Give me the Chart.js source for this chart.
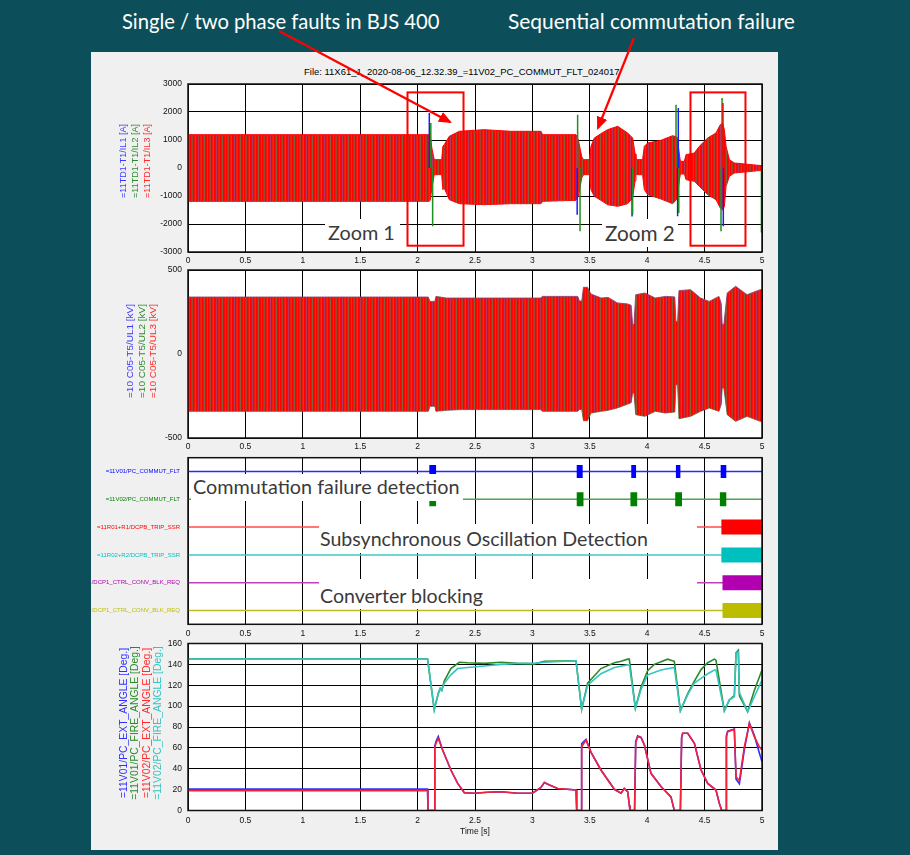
<!DOCTYPE html>
<html>
<head>
<meta charset="utf-8">
<title>11V02 commutation failure record</title>
<script src="https://cdn.jsdelivr.net/npm/chart.js@4.4.1/dist/chart.umd.min.js"></script>
<style>
  html, body { margin: 0; padding: 0; }
  body { width: 910px; height: 855px; position: relative; overflow: hidden; background: #0c4f5a; font-family: 'Liberation Sans', Arial, sans-serif; }
  #sheet { position: absolute; left: 91px; top: 52px; width: 687px; height: 798px; background: #f0f0f0; }
  canvas { position: absolute; left: 91px; }
  .txt { position: absolute; white-space: nowrap; line-height: 1; transform: translateY(-50%); }
  .hdr { color: #fff; font-family: Lato, 'Open Sans', sans-serif; }
  .call { color: #3a3a3a; font-family: Lato, 'Open Sans', sans-serif; }
  .note { position: absolute; background: #fff; }
  .vlab { position: absolute; white-space: nowrap; line-height: 1; transform: translate(-50%, -50%) rotate(-90deg); }
  svg { position: absolute; left: 0; top: 0; }
</style>
</head>
<body>
<div id="sheet"></div>

<span class="txt hdr" data-w="318" style="left:122px;top:21px">Single / two phase faults in BJS 400</span>
<span class="txt hdr" data-w="287" style="left:508px;top:21px">Sequential commutation failure</span>
<span class="txt" data-w="316" style="left:304px;top:72px;color:#000">File: 11X61_1_2020-08-06_12.32.39_=11V02_PC_COMMUT_FLT_024017</span>

<canvas id="cur" width="684" height="204" style="top:70px"></canvas>
<canvas id="volt" width="684" height="204" style="top:256px"></canvas>
<canvas id="dig" width="684" height="202" style="top:444px"></canvas>
<canvas id="ang" width="684" height="222" style="top:630px"></canvas>

<!-- callouts with white boxes over the plots -->
<div class="note" style="left:325px;top:219px;width:75px;height:28px"></div>
<span class="txt call" data-w="67" style="left:328px;top:233px">Zoom 1</span>
<div class="note" style="left:602px;top:219px;width:76px;height:28px"></div>
<span class="txt call" data-w="70" style="left:605px;top:233px">Zoom 2</span>
<div class="note" style="left:191px;top:473.5px;width:272px;height:27px"></div>
<span class="txt call" data-w="267" style="left:193px;top:487px">Commutation failure detection</span>
<div class="note" style="left:319px;top:523.5px;width:378px;height:29.5px"></div>
<span class="txt call" data-w="328" style="left:320px;top:539px">Subsynchronous Oscillation Detection</span>
<div class="note" style="left:319px;top:578.5px;width:378px;height:30px"></div>
<span class="txt call" data-w="163" style="left:320px;top:596px">Converter blocking</span>

<div id="labels"></div>

<svg width="910" height="855">
  <defs>
    <marker id="ah" markerWidth="6" markerHeight="5" refX="5" refY="2.5" orient="auto" markerUnits="strokeWidth">
      <path d="M0,0 L6,2.5 L0,5 z" fill="#ff0000"/>
    </marker>
  </defs>
  <line x1="279" y1="31" x2="450" y2="122" stroke="#ff0000" stroke-width="2.2" marker-end="url(#ah)"/>
  <line x1="634" y1="38" x2="598" y2="128" stroke="#ff0000" stroke-width="2.2" marker-end="url(#ah)"/>
</svg>

<script>
// --- DATA ---
// phase currents [A]: envelope of the 50 Hz band
const curT  = [0, 2.10, 2.11, 2.125, 2.145, 2.21, 2.22, 2.232, 2.276, 2.363, 2.581, 2.813, 3.075, 3.089, 3.38, 3.40, 3.43, 3.446, 3.496, 3.51, 3.539, 3.597, 3.655, 3.743, 3.83, 3.873, 3.895, 3.902, 3.96, 3.975, 4.004, 4.12, 4.222, 4.26, 4.28, 4.289, 4.324, 4.338, 4.411, 4.454, 4.527, 4.599, 4.637, 4.657, 4.672, 4.687, 4.716, 4.759, 5.0];
const curHi = [1190, 1190, 1150, 700, 298, 298, 774, 833, 1131, 1310, 1369, 1310, 1310, 1190, 1190, 1000, 400, 298, 298, 774, 1071, 1226, 1369, 1488, 1250, 1071, 500, 298, 298, 774, 893, 988, 1155, 1100, 500, 238, 238, 476, 536, 774, 1071, 1250, 1548, 1600, 1369, 774, 298, 179, 83];
const curLo = [-1190, -1190, -1150, -700, -238, -238, -774, -714, -1131, -1274, -1310, -1274, -1274, -1190, -1155, -1000, -350, -238, -238, -774, -1012, -1155, -1310, -1369, -1274, -1071, -450, -238, -238, -774, -952, -1107, -1274, -1100, -450, -214, -214, -417, -476, -655, -952, -1131, -1429, -1500, -1369, -655, -298, -179, -83];
// current spikes [t, from, to]
const curSpikeBlue  = [[2.102, 0, 1960], [3.39, -1670, 0], [3.868, -1730, 0], [4.265, -1726, 0], [4.271, 0, 2140], [4.663, -2083, 0]];
const curSpikeGreen = [[2.115, 0, 1607], [2.131, -2083, 0], [3.394, 0, 1905], [3.415, -2262, 0], [3.873, -1670, 0], [4.251, 0, 2262], [4.275, -1607, 0], [4.643, -2262, 0], [4.652, 0, 2500], [4.995, -2300, -100]];
const curSpikeRed   = [[4.66, 0, 2320]];

// phase voltages [kV]: envelope
const voltT  = [0, 2.093, 2.108, 2.15, 2.16, 2.25, 2.38, 3.075, 3.085, 3.395, 3.41, 3.43, 3.445, 3.48, 3.51, 3.60, 3.66, 3.74, 3.83, 3.86, 3.873, 3.885, 3.90, 3.98, 4.07, 4.16, 4.24, 4.25, 4.265, 4.277, 4.378, 4.465, 4.54, 4.625, 4.645, 4.653, 4.668, 4.697, 4.77, 4.87, 4.985, 5.0];
const voltHi = [339, 339, 313, 313, 343, 333, 333, 333, 343, 343, 315, 315, 397, 397, 357, 333, 337, 304, 298, 290, 175, 175, 353, 363, 333, 343, 340, 194, 194, 377, 383, 333, 313, 343, 300, 175, 175, 363, 403, 353, 383, 383];
const voltLo = [-341, -341, -311, -311, -341, -335, -331, -331, -341, -341, -330, -330, -397, -397, -351, -341, -335, -321, -298, -290, -232, -232, -361, -371, -341, -351, -345, -183, -183, -385, -371, -341, -321, -341, -300, -202, -202, -361, -401, -371, -401, -401];

// binary channels (top to bottom)
const digNames  = ['=11V01/PC_COMMUT_FLT', '=11V02/PC_COMMUT_FLT', '=11R01+R1/DCPB_TRIP_SSR', '=11R02+R2/DCPB_TRIP_SSR', '=11R01+R1/DCP1_CTRL_CONV_BLK_REQ', '=11R02+R2/DCP1_CTRL_CONV_BLK_REQ'];
const digLevel  = [6, 5, 4, 3, 2, 1];
const digOn = [
  [[2.102, 2.161], [3.386, 3.438], [3.861, 3.903], [4.250, 4.289], [4.640, 4.689]],
  [[2.102, 2.161], [3.386, 3.445], [3.854, 3.913], [4.244, 4.303], [4.633, 4.689]],
  [[4.646, 5.0]],
  [[4.646, 5.0]],
  [[4.656, 5.0]],
  [[4.656, 5.0]]
];

// angles [Deg.]
const fireT1 = [0, 2.087, 2.145, 2.18, 2.197, 2.21, 2.232, 2.29, 2.363, 2.436, 2.581, 2.726, 2.871, 3.017, 3.104, 3.38, 3.429, 3.481, 3.597, 3.714, 3.772, 3.83, 3.844, 3.897, 3.946, 4.004, 4.062, 4.178, 4.236, 4.242, 4.289, 4.353, 4.411, 4.469, 4.527, 4.585, 4.599, 4.672, 4.716, 4.759, 4.774, 4.794, 4.803, 4.875, 4.933, 5.0];
const fireV1 = [145, 145, 96.6, 112, 117, 115, 124, 136, 142, 141.5, 141, 142, 141, 140.5, 143, 143.5, 97, 122, 136, 141.6, 143, 145, 145, 98, 118, 134, 140, 145, 143, 143, 95.6, 112, 124, 135, 141.6, 145, 144, 95.6, 106, 110, 151, 153.5, 110, 94.7, 115, 134.6];
const fireT2 = [0, 2.087, 2.145, 2.18, 2.197, 2.21, 2.232, 2.29, 2.349, 2.436, 2.581, 2.726, 2.871, 3.017, 3.104, 3.38, 3.429, 3.481, 3.597, 3.714, 3.83, 3.844, 3.897, 3.946, 4.004, 4.12, 4.236, 4.242, 4.289, 4.353, 4.411, 4.469, 4.527, 4.585, 4.599, 4.672, 4.716, 4.759, 4.774, 4.794, 4.803, 4.875, 4.933, 5.0];
const fireV2 = [145, 145, 96.6, 112, 117, 115, 121.8, 130, 136, 137, 138.5, 140, 141, 141, 142, 143.5, 97, 120, 131, 137, 139.5, 139.5, 98, 116, 130, 134.6, 137, 137, 95.6, 111, 122, 126.6, 131, 134.6, 134.6, 95.6, 106, 109, 150.6, 152, 113, 94.7, 109, 125];
const extT  = [0, 2.087, 2.09, 2.145, 2.15, 2.16, 2.18, 2.218, 2.29, 2.349, 2.407, 2.494, 2.61, 2.726, 2.871, 3.0, 3.075, 3.104, 3.148, 3.22, 3.38, 3.386, 3.425, 3.429, 3.467, 3.51, 3.597, 3.714, 3.772, 3.80, 3.83, 3.845, 3.85, 3.89, 3.90, 3.917, 3.946, 3.975, 4.033, 4.12, 4.207, 4.236, 4.289, 4.30, 4.309, 4.353, 4.411, 4.469, 4.527, 4.599, 4.628, 4.649, 4.687, 4.69, 4.701, 4.759, 4.774, 4.803, 4.846, 4.89, 4.933, 4.977, 5.0];
const extV1 = [20.5, 20.5, 0, 0, 62, 66, 71, 58, 38.8, 26, 17, 16.5, 17.5, 18, 16.5, 16.5, 22, 26.7, 24.4, 21, 19.6, 0, 0, 64, 68, 56, 38.8, 20.3, 16.5, 21, 18, 5, 0, 0, 66, 71.5, 70, 63, 35.6, 23, 13, 0, 0, 70, 74, 74, 64.4, 38.8, 26, 19.6, 6.9, 0, 0, 72, 76, 78, 30, 25.6, 58, 84, 72, 55, 46.8];
const extV2 = [19, 19, 0, 0, 60, 64.4, 69, 58, 38.8, 26, 17, 16.5, 17.5, 18, 16.5, 16.5, 22, 26.7, 24.4, 21, 19.6, 0, 0, 61, 67.5, 56, 38.8, 20.3, 16.5, 21, 18, 5, 0, 0, 65, 70.7, 70, 63, 35.6, 23, 13, 0, 0, 70, 74, 74, 64.4, 38.8, 26, 19.6, 6.9, 0, 0, 70, 75.5, 77.8, 32.4, 28.6, 61, 83.5, 70.7, 61, 58];

// axis titles
const curNames  = ['=11TD1-T1/IL1 [A]', '=11TD1-T1/IL2 [A]', '=11TD1-T1/IL3 [A]'];
const voltNames = ['=10 C05-T5/UL1 [kV]', '=10 C05-T5/UL2 [kV]', '=10 C05-T5/UL3 [kV]'];
const angNames  = ['=11V01/PC_EXT_ANGLE [Deg.]', '=11V01/PC_FIRE_ANGLE [Deg.]', '=11V02/PC_EXT_ANGLE [Deg.]', '=11V02/PC_FIRE_ANGLE [Deg.]'];

// zoom windows marked on the current plot
const zoomBoxT = [[1.912, 2.40], [4.377, 4.856]];
const zoomBoxV = [2700, -2775];

// --- STYLES ---
const phaseColors = ['#3a3aff', '#2e8b2e', '#ff2a2a'];
const angColors   = ['#2f2fff', '#2a8a2a', '#ff2a2a', '#35c4c0'];
const digLineCol  = ['#2a2aff', '#4ca64c', '#ff4a4a', '#3cc8c8', '#c040c0', '#bcbc20'];
const digBarCol   = ['#0000ff', '#008000', '#ff0000', '#00bfbf', '#b000b0', '#bdbd00'];
const digBarW     = [13, 14, 15, 15, 15, 15];
const TICK_FONT = { family: "'Liberation Sans', Arial, sans-serif", size: 8.5 };

// text fitting
function fitText(el, target) {
  el.style.fontSize = '40px';
  const w = el.offsetWidth;
  el.style.fontSize = (40 * target / w).toFixed(2) + 'px';
  return 40 * target / w;
}
document.querySelectorAll('[data-w]').forEach(el => fitText(el, +el.dataset.w));

function vLabels(names, colors, xs, y, target) {
  const box = document.getElementById('labels');
  let size = 0;
  names.forEach((n, i) => {
    const el = document.createElement('span');
    el.className = 'vlab';
    el.textContent = n;
    el.style.color = colors[i];
    el.style.left = xs[i] + 'px';
    el.style.top = y + 'px';
    box.appendChild(el);
    if (i === 0) size = fitText(el, target);
    else el.style.fontSize = size.toFixed(2) + 'px';
  });
}
vLabels(curNames, phaseColors, [124.3, 136, 147.7], 160.5, 74);
vLabels(voltNames, phaseColors, [130, 141.7, 153.3], 351, 94);
vLabels(angNames, angColors, [123.5, 135, 146.5, 158], 723, 150);

// --- HELPERS ---
const xy = (ts, vs) => ts.map((t, i) => ({ x: t, y: vs[i] }));
const spikes = list => list.flatMap(([t, lo, hi]) => [{ x: t, y: lo }, { x: t, y: hi }, { x: t, y: null }]);
const pulses = (list, lvl) => list.flatMap(([a, b]) => [{ x: a, y: lvl }, { x: b, y: lvl }, { x: b, y: null }]);

function line(data, color, width, extra) {
  return Object.assign({ data, borderColor: color, borderWidth: width, pointRadius: 0, fill: false, tension: 0, spanGaps: false }, extra || {});
}

// striped fill so the dense 50 Hz band keeps its phase-colour texture
function stripes() {
  const c = document.createElement('canvas');
  c.width = 9; c.height = 1;
  const g = c.getContext('2d');
  ['#ff0000', '#e8200c', '#9a4a2c', '#ff0000', '#f51208', '#86603a', '#ff0000', '#ff0600', '#b03a66'].forEach((col, i) => {
    g.fillStyle = col; g.fillRect(i, 0, 1, 1);
  });
  return g.createPattern(c, 'repeat');
}

const framePlugin = {
  id: 'frame',
  beforeDraw(chart) {
    const { ctx, chartArea: a } = chart;
    ctx.save();
    ctx.fillStyle = '#fff';
    ctx.fillRect(a.left, a.top, a.right - a.left, a.bottom - a.top);
    ctx.restore();
  },
  afterDraw(chart) {
    const { ctx, chartArea: a } = chart;
    ctx.save();
    ctx.strokeStyle = '#111';
    ctx.lineWidth = 1.5;
    ctx.strokeRect(a.left, a.top, a.right - a.left, a.bottom - a.top);
    ctx.restore();
  }
};

const zoomBoxPlugin = {
  id: 'zoomBoxes',
  afterDatasetsDraw(chart) {
    const { ctx, scales: { x, y } } = chart;
    ctx.save();
    ctx.strokeStyle = '#ff0000';
    ctx.lineWidth = 2;
    zoomBoxT.forEach(([a, b]) => {
      const l = x.getPixelForValue(a), r = x.getPixelForValue(b);
      const t = y.getPixelForValue(zoomBoxV[0]), btm = y.getPixelForValue(zoomBoxV[1]);
      ctx.strokeRect(l, t, r - l, btm - t);
    });
    ctx.restore();
  }
};

function xAxis(h, pad, title) {
  return {
    type: 'linear', min: 0, max: 5,
    ticks: { stepSize: 0.5, autoSkip: false, maxRotation: 0, padding: pad, color: '#111', font: TICK_FONT, callback: v => String(v) },
    grid: { color: '#000', lineWidth: 1, drawTicks: false },
    border: { display: false },
    title: title
      ? { display: true, text: title, color: '#111', font: TICK_FONT, padding: { top: 0, bottom: 4 } }
      : { display: false },
    afterFit: s => { s.height = h; }
  };
}

function yAxis(min, max, step) {
  return {
    type: 'linear', min, max,
    ticks: { stepSize: step, padding: 6, color: '#111', font: TICK_FONT, callback: v => String(v) },
    grid: { color: '#000', lineWidth: 1, drawTicks: false },
    border: { display: false },
    afterFit: s => { s.width = 97; }
  };
}

function baseOptions(x, y) {
  return {
    responsive: false, animation: false, devicePixelRatio: 1,
    layout: { padding: { top: 14, right: 13, bottom: 6, left: 0 }, autoPadding: false },
    plugins: { legend: { display: false }, tooltip: { enabled: false } },
    scales: { x, y }
  };
}

// move the plot area of a chart onto the page rows [top, bottom]
function pin(chart, top, bottom) {
  const off = chart.canvas.offsetTop;
  const a = chart.chartArea;
  const p = chart.options.layout.padding;
  p.top += top - (off + a.top);
  p.bottom += (off + a.bottom) - bottom;
  chart.update();
}

const bandFill = stripes();

// --- CHARTS ---
const curChart = new Chart(document.getElementById('cur'), {
  type: 'line',
  data: { datasets: [
    line(spikes(curSpikeRed), '#ff0000', 1.5),
    line(spikes(curSpikeGreen), '#1f8f1f', 1.5),
    line(spikes(curSpikeBlue), '#1a1aff', 1.5),
    line(xy(curT, curHi), '#ff0000', 1, { fill: '+1', backgroundColor: bandFill }),
    line(xy(curT, curLo), '#ff0000', 1)
  ] },
  options: baseOptions(xAxis(16, 4), yAxis(-3000, 3000, 1000)),
  plugins: [framePlugin, zoomBoxPlugin]
});
pin(curChart, 84, 252);

const voltChart = new Chart(document.getElementById('volt'), {
  type: 'line',
  data: { datasets: [
    line(xy(voltT, voltHi), 'rgba(150,60,110,0.9)', 1, { fill: '+1', backgroundColor: bandFill }),
    line(xy(voltT, voltLo), 'rgba(80,110,80,0.9)', 1)
  ] },
  options: baseOptions(xAxis(16, 4), yAxis(-500, 500, 500)),
  plugins: [framePlugin]
});
pin(voltChart, 270, 438);

const digSets = [];
digLevel.forEach((lvl, i) => {
  digSets.push(line(pulses(digOn[i], lvl), digBarCol[i], digBarW[i]));
});
digLevel.forEach((lvl, i) => {
  digSets.push(line(xy([0, 5], [lvl, lvl]), digLineCol[i], 1.5));
});
const digY = {
  type: 'linear', min: 0.5, max: 6.5,
  afterBuildTicks: s => { s.ticks = [...digLevel].sort((a, b) => a - b).map(v => ({ value: v })); },
  ticks: {
    padding: 8, autoSkip: false,
    font: { family: TICK_FONT.family, size: 6 },
    color: c => digBarCol[6 - c.tick.value],
    callback: v => digNames[6 - v]
  },
  grid: { display: false, drawTicks: false },
  border: { display: false },
  afterFit: s => { s.width = 97; }
};
const digChart = new Chart(document.getElementById('dig'), {
  type: 'line',
  data: { datasets: digSets },
  options: baseOptions(xAxis(16, 4), digY),
  plugins: [framePlugin]
});
pin(digChart, 457.7, 624.3);

const angChart = new Chart(document.getElementById('ang'), {
  type: 'line',
  data: { datasets: [
    line(xy(fireT2, fireV2), angColors[3], 1.6),
    line(xy(extT, extV2), '#f5203a', 1.6),
    line(xy(fireT1, fireV1), angColors[1], 1.6),
    line(xy(extT, extV1), angColors[0], 1.6)
  ] },
  options: baseOptions(xAxis(30, 5, 'Time [s]'), yAxis(0, 160, 20)),
  plugins: [framePlugin]
});
pin(angChart, 643.5, 810.5);
</script>
</body>
</html>
